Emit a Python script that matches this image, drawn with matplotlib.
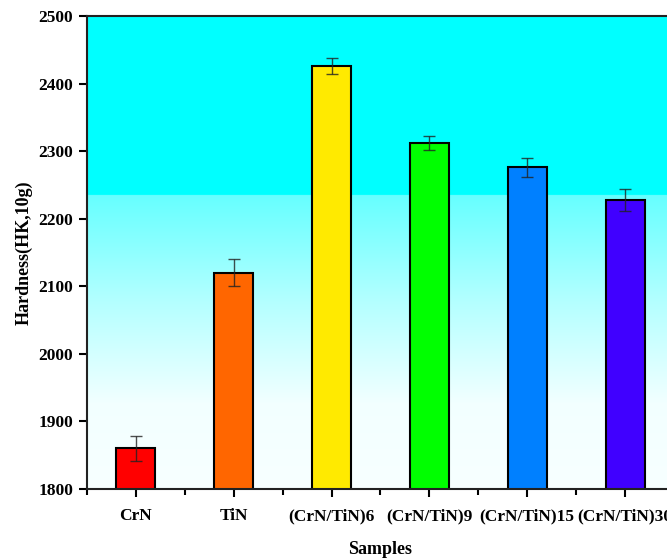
import numpy as np
import matplotlib
matplotlib.use("Agg")
import matplotlib.pyplot as plt
from matplotlib.ticker import MultipleLocator

samples = ["CrN", "TiN", "(CrN/TiN)6", "(CrN/TiN)9", "(CrN/TiN)15", "(CrN/TiN)30"]
hardness = [1860, 2120, 2426, 2312, 2276, 2228]
hardness_err = [18, 20, 12, 10, 14, 16]
bar_colors = ["#ff0000", "#ff6600", "#ffea00", "#00ff00", "#0080ff", "#4000ff"]

plt.rcParams["font.family"] = ["Liberation Serif", "DejaVu Serif"]
plt.rcParams["font.weight"] = "bold"

fig = plt.figure(figsize=(6.67, 5.58), dpi=100)
ax = fig.add_axes([87 / 667, 69 / 558, (674 - 87) / 667, 473 / 558])

# cyan band on top, fading to near white towards the bottom
f = np.linspace(0, 1, 600)
red = np.interp(f, [0.0, 0.18, 0.40, 0.6215, 0.6216, 1.0],
                [0.97, 0.95, 0.70, 0.40, 0.0, 0.0])
bg = np.stack([red, np.ones_like(f), np.ones_like(f)], axis=1)[::-1, None, :]
ax.imshow(bg, extent=[0, 1, 0, 1], transform=ax.transAxes,
          aspect="auto", zorder=0, interpolation="bilinear")

x = np.arange(len(samples))
ax.bar(x, hardness, width=0.4, color=bar_colors, edgecolor="black",
       linewidth=1.5, zorder=2)
ax.errorbar(x, hardness, yerr=hardness_err, fmt="none", ecolor="#222222",
            elinewidth=1, capsize=4, capthick=1, alpha=0.8, zorder=3)

ax.set_xlim(-0.5, 5.5)
ax.set_ylim(1800, 2500)
ax.set_xticks(x)
ax.set_xticklabels(samples)
ax.xaxis.set_minor_locator(MultipleLocator(1, offset=0.5))
ax.yaxis.set_major_locator(MultipleLocator(100))

ax.tick_params(axis="both", which="major", direction="out", length=6,
               width=1.5, labelsize=12.5, pad=4)
ax.tick_params(axis="x", which="minor", direction="out", length=4, width=1.5)
ax.tick_params(axis="x", which="major", pad=8)
for lab in ax.get_xticklabels() + ax.get_yticklabels():
    lab.set_fontweight("bold")

for side in ["left", "bottom", "top"]:
    ax.spines[side].set_linewidth(1.5)
    ax.spines[side].set_color("#222222")
ax.spines["right"].set_visible(False)

ax.set_xlabel("Samples", fontsize=13, fontweight="bold", labelpad=12)
ax.set_ylabel("Hardness(HK,10g)", fontsize=13, fontweight="bold", labelpad=4)

fig.savefig("out.png", dpi=100)
